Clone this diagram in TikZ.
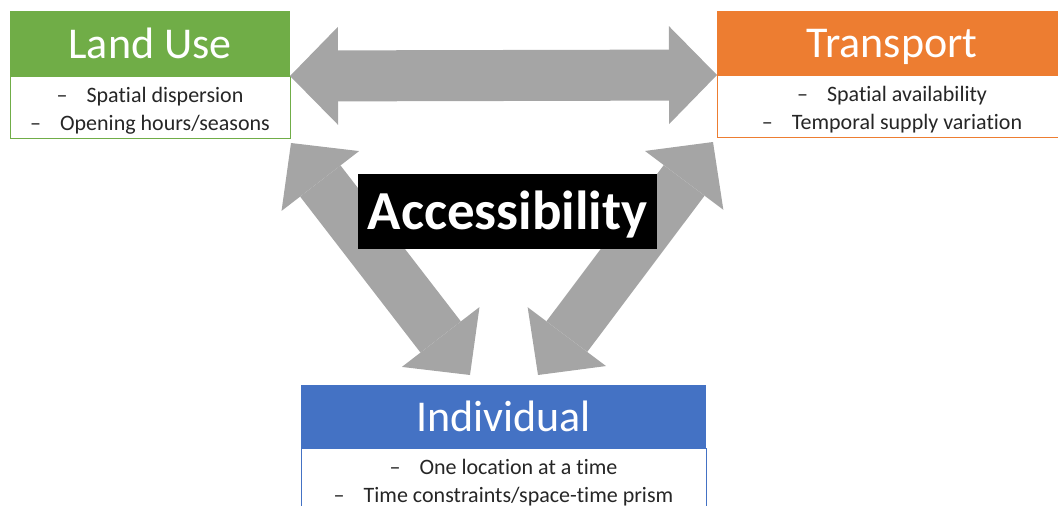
\documentclass[tikz,border=0pt]{standalone}
\usepackage{fontspec}
\setmainfont{Carlito}[Ligatures=NoCommon]
\usetikzlibrary{positioning,arrows.meta}

\definecolor{landgreen}{HTML}{70AD47}
\definecolor{transorange}{HTML}{ED7D31}
\definecolor{indblue}{HTML}{4472C4}
\definecolor{arrowgray}{HTML}{A5A5A5}

\newcommand{\dashitem}[1]{\makebox[30pt][l]{--}#1}
\newcommand{\firstitem}[1]{\rule{0pt}{22.5pt}\dashitem{#1}}

\begin{document}
\begin{tikzpicture}[x=1pt,y=-1pt,
		boxhead/.style={fill=#1, text=white, font=\fontsize{44}{53}\selectfont, text height=29pt, text depth=0pt, inner sep=0pt, outer sep=0pt},
		boxbody/.style={draw=#1, line width=1pt, fill=white, text=black!85, align=center, font=\fontsize{22}{28}\selectfont, inner sep=0pt, outer sep=0pt},
		bigarrow/.style={line width=51pt, draw=arrowgray, {Triangle[length=48pt,width=98pt,line width=0pt]}-{Triangle[length=48pt,width=98pt,line width=0pt]}}]
		
		\useasboundingbox (0,0) rectangle (1058,506);
		\clip (0,0) rectangle (1058,506);
		
		% Land Use
		\node[boxhead=landgreen, minimum width=280pt, minimum height=65pt] (luhead) at (150,43.5) {Land Use};
		\node[boxbody=landgreen, minimum width=280pt, minimum height=62pt, below=0pt of luhead] (lubody) {\firstitem{Spatial dispersion}\\\dashitem{Opening hours/seasons}};
		
		% Transport
		\node[boxhead=transorange, minimum width=350pt, minimum height=64pt] (trhead) at (892,43) {Transport};
		\node[boxbody=transorange, minimum width=350pt, minimum height=62pt, below=0pt of trhead] (trbody) {\firstitem{Spatial availability}\\\dashitem{Temporal supply variation}};
		
		% Individual
		\node[boxhead=indblue, minimum width=405pt, minimum height=63pt] (indhead) at (503.5,416.5) {Individual};
		\node[boxbody=indblue, minimum width=405pt, minimum height=62pt, below=0pt of indhead] (indbody) {\firstitem{One location at a time}\\\dashitem{Time constraints/space-time prism}};
		
		% Arrow ends
		\coordinate (luTip) at ([shift={(1,5)}]lubody.south east);
		\coordinate (trTip) at ([shift={(-4,5)}]trbody.south west);
		\coordinate (indLeft) at ([shift={(169,-10)}]indhead.north west);
		\coordinate (indRight) at ([shift={(-168,-10)}]indhead.north east);
		
		% Arrows
		\draw[bigarrow] (luhead.south east) -- (trhead.south west);
		\draw[bigarrow] (luTip) -- (indLeft);
		\draw[bigarrow] (trTip) -- (indRight);
		
		% Title
		\node[fill=black, text=white, font=\fontsize{55}{66}\selectfont\bfseries, minimum width=299pt, minimum height=75pt, text height=36pt, text depth=0pt, inner sep=0pt] (access) at (507.5,211.5) {Accessibility};
		
	\end{tikzpicture}
\end{document}
